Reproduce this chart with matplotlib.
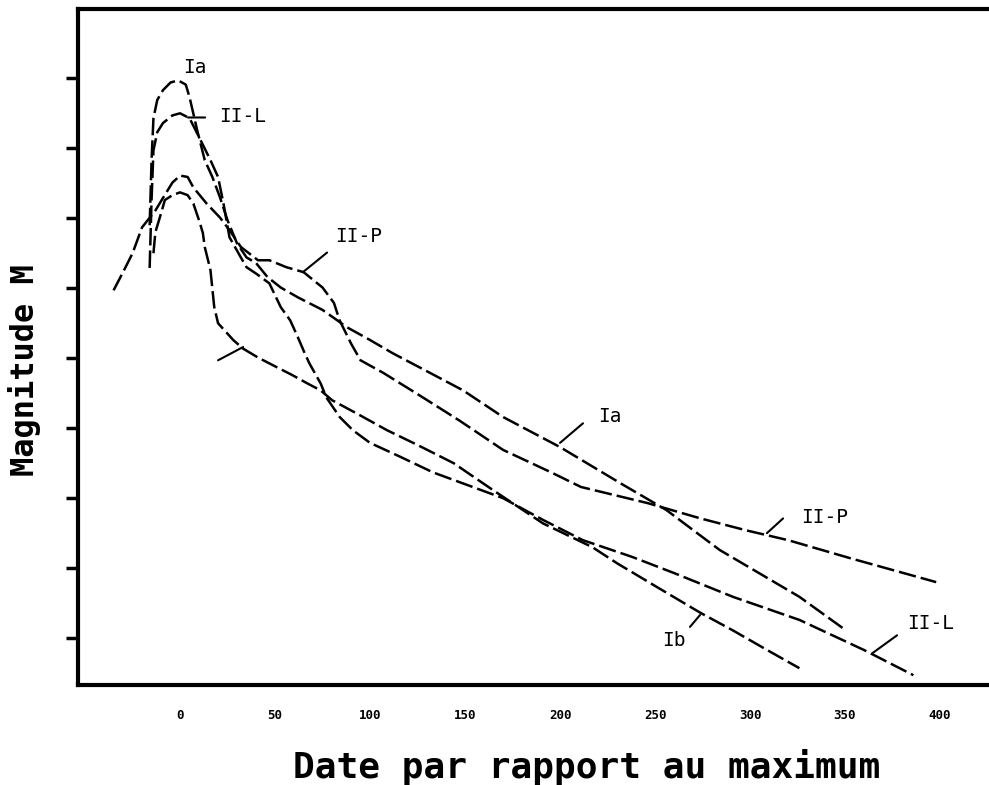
import matplotlib
matplotlib.use("Agg")
import matplotlib.pyplot as plt

# Light curves of supernovae, days relative to maximum vs absolute magnitude
ia_days = [-16, -15, -14, -12, -9, -5, -1, 3, 5, 9, 13, 17, 21, 25, 30, 35, 40, 46,
           53, 62, 75, 88, 100, 112, 126, 149, 170, 200, 232, 256, 284, 326, 349]
ia_mag = [-17.9, -18.83, -19.43, -19.69, -19.83, -19.94, -19.97, -19.91, -19.73, -19.26,
          -18.83, -18.59, -18.3, -17.97, -17.64, -17.44, -17.36, -17.16, -17.01, -16.87,
          -16.69, -16.44, -16.26, -16.07, -15.87, -15.54, -15.16, -14.73, -14.21, -13.83,
          -13.26, -12.59, -12.14]

ib_days = [-14, -13, -10, -8, -4, 0, 4, 7, 10, 12, 13, 16, 18, 20, 28, 33, 41, 51, 59,
           67, 74, 80, 93, 109, 125, 144, 165, 191, 217, 230, 251, 274, 291, 309, 326]
ib_mag = [-17.5, -17.8, -18.07, -18.26, -18.33, -18.37, -18.33, -18.21, -17.97, -17.79,
          -17.59, -17.26, -16.73, -16.5, -16.26, -16.14, -16.01, -15.87, -15.76, -15.64,
          -15.54, -15.4, -15.21, -14.97, -14.76, -14.5, -14.11, -13.64, -13.3, -13.07,
          -12.73, -12.36, -12.11, -11.83, -11.57]

iil_days = [-16, -15, -14, -12, -9, -4, 0, 5, 10, 16, 20, 23, 26, 32, 35, 40, 47, 53,
            58, 62, 65, 68, 74, 77, 84, 91, 100, 116, 133, 154, 170, 191, 212, 238, 260,
            291, 326, 360, 386]
iil_mag = [-17.29, -18.26, -18.97, -19.23, -19.36, -19.47, -19.5, -19.43, -19.16, -18.83,
           -18.59, -18.19, -17.73, -17.44, -17.3, -17.21, -17.07, -16.73, -16.54, -16.3,
           -16.11, -15.93, -15.64, -15.44, -15.16, -14.97, -14.79, -14.59, -14.37, -14.16,
           -14.0, -13.69, -13.4, -13.16, -12.93, -12.59, -12.26, -11.83, -11.47]

iip_days = [-35, -30, -25, -20, -13, -9, -4, 0, 4, 7, 14, 21, 26, 32, 41, 47, 56, 65,
            75, 81, 84, 90, 95, 107, 126, 147, 170, 196, 211, 246, 274, 298, 320, 353, 398]
iip_mag = [-16.97, -17.23, -17.5, -17.87, -18.11, -18.29, -18.51, -18.61, -18.59, -18.44,
           -18.21, -18.01, -17.83, -17.59, -17.4, -17.4, -17.3, -17.23, -17.01, -16.79,
           -16.54, -16.21, -15.97, -15.79, -15.47, -15.11, -14.69, -14.36, -14.16, -13.93,
           -13.71, -13.54, -13.4, -13.14, -12.8]

day_ticks = [0, 50, 100, 150, 200, 250, 300, 350, 400]
marked_days = [50, 100, 150, 200, 250]
mag_ticks = [-20, -19, -18, -17, -16, -15, -14, -13, -12]

FONT = "DejaVu Sans Mono"
plt.rcParams["font.family"] = FONT

fig = plt.figure(figsize=(9.89, 7.85), dpi=100)
ax = fig.add_axes([0.0789, 0.1274, 0.9211, 0.8611])

dash = (0, (7, 2))
for d, m in [(ia_days, ia_mag), (ib_days, ib_mag), (iil_days, iil_mag), (iip_days, iip_mag)]:
    ax.plot(d, m, color="black", lw=1.8, linestyle=dash)

ax.set_xlim(-53.7, 425.8)
ax.set_ylim(-11.33, -20.99)

# curve names: text position, then leader start and end (None = no leader)
labels = [
    ("Ia", (1.5, -20.16), None),
    ("II-L", (20.5, -19.46), ((13.2, -19.44), (4.2, -19.44))),
    ("II-P", (81.6, -17.74), ((77.4, -17.51), (64.7, -17.23))),
    ("Ia", (220.0, -15.17), ((212.1, -15.07), (200.0, -14.79))),
    ("II-P", (327.0, -13.73), ((317.4, -13.71), (308.9, -13.5))),
    ("II-L", (382.6, -12.21), ((377.4, -12.04), (364.7, -11.79))),
    ("Ib", (253.7, -11.97), ((268.4, -12.16), (273.7, -12.33))),
]
for txt, pos, leader in labels:
    ax.text(pos[0], pos[1], txt, fontsize=14, ha="left", va="center")
    if leader is not None:
        ax.annotate("", xy=leader[1], xytext=leader[0],
                    arrowprops=dict(arrowstyle="-", color="black", lw=1.5,
                                    shrinkA=0, shrinkB=0))
# leader without text near the Ib drop
ax.annotate("", xy=(33.2, -16.16), xytext=(20.0, -15.97),
            arrowprops=dict(arrowstyle="-", color="black", lw=1.5, shrinkA=0, shrinkB=0))

ax.set_xticks(day_ticks)
ax.set_xticklabels([str(t) for t in day_ticks], fontsize=9, fontweight="bold")
ax.tick_params(axis="x", which="major", length=0, pad=17)
ax.set_xticks(marked_days, minor=True)
ax.tick_params(axis="x", which="minor", direction="inout", length=11.5, width=1.5)

ax.set_yticks(mag_ticks)
ax.set_yticklabels([])
ax.tick_params(axis="y", direction="out", length=9, width=2.5)

for side in ["left", "bottom", "top"]:
    ax.spines[side].set_linewidth(3)
ax.spines["right"].set_visible(False)

fig.text(25 / 989, 1 - 370 / 785, "Magnitude M", rotation=90, fontsize=23,
         fontweight="bold", ha="center", va="center")
fig.text(587 / 989, 1 - 767 / 785, "Date par rapport au maximum", fontsize=26,
         fontweight="bold", ha="center", va="center")

fig.savefig("out.png", dpi=100)
